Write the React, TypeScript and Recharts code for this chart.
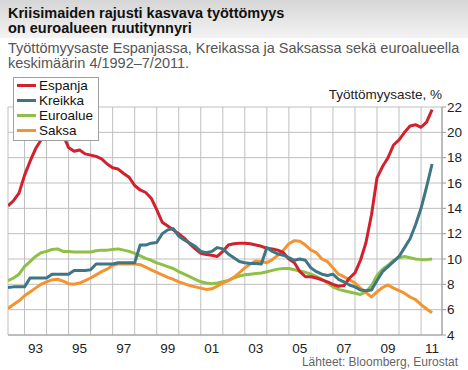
import React from 'react';
import { LineChart, Line, XAxis, YAxis, CartesianGrid } from 'recharts';

// quarterly readings, month/year
const periods = [
  '4/1992', '7/1992', '10/1992',
  '1/1993', '4/1993', '7/1993', '10/1993',
  '1/1994', '4/1994', '7/1994', '10/1994',
  '1/1995', '4/1995', '7/1995', '10/1995',
  '1/1996', '4/1996', '7/1996', '10/1996',
  '1/1997', '4/1997', '7/1997', '10/1997',
  '1/1998', '4/1998', '7/1998', '10/1998',
  '1/1999', '4/1999', '7/1999', '10/1999',
  '1/2000', '4/2000', '7/2000', '10/2000',
  '1/2001', '4/2001', '7/2001', '10/2001',
  '1/2002', '4/2002', '7/2002', '10/2002',
  '1/2003', '4/2003', '7/2003', '10/2003',
  '1/2004', '4/2004', '7/2004', '10/2004',
  '1/2005', '4/2005', '7/2005', '10/2005',
  '1/2006', '4/2006', '7/2006', '10/2006',
  '1/2007', '4/2007', '7/2007', '10/2007',
  '1/2008', '4/2008', '7/2008', '10/2008',
  '1/2009', '4/2009', '7/2009', '10/2009',
  '1/2010', '4/2010', '7/2010', '10/2010',
  '1/2011', '4/2011', '7/2011',
];

const espanja = [
  14.2, 14.6, 15.2,
  16.6, 17.7, 18.7, 19.4,
  20.2, 20.6, 20.4, 19.8,
  18.8, 18.5, 18.6, 18.3,
  18.2, 18.1, 17.9, 17.5,
  17.2, 17.1, 16.75, 16.45,
  15.8, 15.45, 15.25, 14.8,
  13.9, 12.9, 12.6, 12.3,
  12.0, 11.65, 11.2, 10.8,
  10.45, 10.35, 10.3, 10.2,
  10.6, 11.1, 11.2, 11.25,
  11.25, 11.2, 11.1, 11.0,
  10.85, 10.8, 10.7, 10.5,
  10.0, 9.7, 9.0, 8.6,
  8.6, 8.5, 8.35, 8.2,
  8.0, 7.85, 7.9, 8.5,
  8.9, 9.9, 11.3, 13.5,
  16.4, 17.3, 18.0, 19.0,
  19.4, 20.0, 20.5, 20.6,
  20.4, 20.8, 21.8,
];

const kreikka = [
  7.75, 7.8, 7.8,
  7.8, 8.5, 8.5, 8.5,
  8.5, 8.8, 8.8, 8.8,
  8.8, 9.1, 9.1, 9.1,
  9.15, 9.6, 9.6, 9.6,
  9.6, 9.7, 9.7, 9.7,
  9.7, 11.1, 11.1, 11.25,
  11.3, 12.0, 12.3, 12.4,
  11.8, 11.5, 11.25, 11.0,
  10.6, 10.5, 10.6, 10.9,
  10.8, 10.4, 10.1, 9.8,
  9.7, 9.65, 9.65, 9.6,
  10.9, 10.6, 10.4, 10.3,
  10.1, 9.9, 10.0, 9.9,
  9.3, 9.0, 8.8, 8.7,
  8.8, 8.4, 8.2, 7.95,
  7.8, 7.55, 7.5, 7.55,
  8.3, 9.0, 9.4, 9.8,
  10.2, 10.9, 11.6, 12.7,
  14.0, 15.7, 17.5,
];

const euroalue = [
  8.3, 8.5, 8.8,
  9.4, 9.8, 10.2, 10.5,
  10.6, 10.75, 10.8, 10.6,
  10.6, 10.55, 10.55, 10.55,
  10.55, 10.65, 10.7, 10.7,
  10.75, 10.8, 10.7, 10.6,
  10.45, 10.25, 10.05, 9.9,
  9.7, 9.55, 9.4, 9.25,
  9.0, 8.8, 8.6, 8.4,
  8.2, 8.1, 8.05, 8.1,
  8.2, 8.3, 8.5, 8.65,
  8.75, 8.8, 8.85, 8.9,
  9.0, 9.1, 9.2, 9.25,
  9.25, 9.15, 9.05, 8.95,
  8.8, 8.6, 8.4, 8.1,
  7.8, 7.6, 7.5, 7.4,
  7.3, 7.2, 7.4, 7.9,
  8.7, 9.2, 9.5, 9.9,
  10.1, 10.2, 10.1, 10.0,
  9.95, 9.95, 10.0,
];

const saksa = [
  6.1, 6.4, 6.7,
  7.1, 7.4, 7.7, 8.0,
  8.2, 8.35, 8.4, 8.25,
  8.05, 8.0, 8.1, 8.3,
  8.5, 8.75, 9.0, 9.2,
  9.5, 9.6, 9.6, 9.6,
  9.6, 9.55, 9.35, 9.15,
  8.95, 8.75, 8.55, 8.4,
  8.2, 8.05, 7.9, 7.8,
  7.7, 7.6, 7.65, 7.85,
  8.1, 8.3, 8.55, 8.9,
  9.3, 9.6, 9.85, 9.8,
  9.7, 9.95, 10.3, 10.7,
  11.2, 11.45, 11.4, 11.1,
  10.7, 10.5, 10.0, 9.8,
  9.3, 8.8, 8.6, 8.35,
  8.1, 7.7, 7.35, 7.0,
  7.4, 7.75, 7.95, 7.7,
  7.5, 7.3, 7.0, 6.8,
  6.4, 6.05, 5.75,
];

const yTicks = [4, 6, 8, 10, 12, 14, 16, 18, 20, 22];
const yearStarts = [1993, 1994, 1995, 1996, 1997, 1998, 1999, 2000, 2001, 2002, 2003, 2004, 2005, 2006, 2007, 2008, 2009, 2010, 2011];

const SERIES = [
  { key: 'euroalue', name: 'Euroalue', color: '#8dc045' },
  { key: 'saksa', name: 'Saksa', color: '#f4932f' },
  { key: 'espanja', name: 'Espanja', color: '#d2202c' },
  { key: 'kreikka', name: 'Kreikka', color: '#3f7686' },
];
const LEGEND_ORDER = ['espanja', 'kreikka', 'euroalue', 'saksa'];

const toYear = (p: string) => {
  const [m, y] = p.split('/').map(Number);
  return y + (m - 1) / 12;
};

const data = periods.map((p, i) => ({
  t: toYear(p),
  espanja: espanja[i],
  kreikka: kreikka[i],
  euroalue: euroalue[i],
  saksa: saksa[i],
}));

const FONT = "Arial, 'Liberation Sans', Helvetica, sans-serif";

// labels sit in the middle of odd years, grid lines on year starts
const YearTick = (props: any) => {
  const { x, y, payload } = props;
  const v = payload.value;
  if (!Number.isInteger(v) || v % 2 === 0) return <g />;
  return (
    <text x={x + 11} y={y} dy="0.71em" textAnchor="middle" fontSize={13.5} fill="#222" fontFamily={FONT}>
      {String(v).slice(2)}
    </text>
  );
};

export default function App() {
  return (
    <div style={{ position: 'absolute', left: 0, top: 0, width: 468, height: 370, background: '#fff', fontFamily: FONT, overflow: 'hidden' }}>
      <LineChart width={468} height={370} data={data} margin={{ top: 107, right: 0, bottom: 15, left: 8 }}>
        <CartesianGrid stroke="#bfbfbf" strokeWidth={1} />
        <XAxis
          dataKey="t"
          type="number"
          domain={[toYear(periods[0]), 2011.95]}
          ticks={[toYear(periods[0]), ...yearStarts]}
          tick={<YearTick />}
          tickLine={false}
          axisLine={{ stroke: '#9a9a9a' }}
          height={20}
          interval={0}
          allowDataOverflow
        />
        <YAxis
          orientation="right"
          domain={[4, 22]}
          ticks={yTicks}
          width={26}
          tickSize={4}
          tickMargin={1}
          interval={0}
          tick={{ fontSize: 13.5, fill: '#222', fontFamily: FONT }}
          tickLine={{ stroke: '#9a9a9a' }}
          axisLine={{ stroke: '#9a9a9a' }}
        />
        {SERIES.map((s) => (
          <Line
            key={s.key}
            type="linear"
            dataKey={s.key}
            name={s.name}
            stroke={s.color}
            strokeWidth={3}
            dot={false}
            strokeLinejoin="round"
            isAnimationActive={false}
          />
        ))}
      </LineChart>

      <div style={{ position: 'absolute', left: 0, top: 0, width: 468, height: 38, background: 'linear-gradient(to bottom, #d6d6d6, #f3f3f3)' }} />
      <div style={{ position: 'absolute', left: 8, top: 6, fontSize: 14.5, lineHeight: '15px', fontWeight: 'bold', color: '#111' }}>
        Kriisimaiden rajusti kasvava työttömyys
        <br />
        on euroalueen ruutitynnyri
      </div>
      <div style={{ position: 'absolute', left: 8, top: 41, fontSize: 14.5, lineHeight: '15px', color: '#555', whiteSpace: 'nowrap' }}>
        Työttömyysaste Espanjassa, Kreikassa ja Saksassa sekä euroalueella
        <br />
        keskimäärin 4/1992–7/2011.
      </div>

      <div style={{ position: 'absolute', right: 26, top: 87, fontSize: 13.5, lineHeight: '16px', color: '#222', whiteSpace: 'nowrap' }}>
        Työttömyysaste, %
      </div>

      <div
        style={{
          position: 'absolute',
          left: 13,
          top: 77,
          width: 86,
          height: 64,
          boxSizing: 'border-box',
          border: '1px solid #a0a0a0',
          background: '#fff',
          paddingLeft: 3,
        }}
      >
        {LEGEND_ORDER.map((k) => {
          const s = SERIES.find((x) => x.key === k)!;
          return (
            <div key={k} style={{ display: 'flex', alignItems: 'center', height: 15, fontSize: 13.5, color: '#111' }}>
              <span style={{ display: 'inline-block', width: 19, height: 3, background: s.color, marginRight: 3 }} />
              {s.name}
            </div>
          );
        })}
      </div>

      <div style={{ position: 'absolute', right: 10, top: 354, fontSize: 12, lineHeight: '16px', color: '#666', whiteSpace: 'nowrap' }}>
        Lähteet: Bloomberg, Eurostat
      </div>
    </div>
  );
}
